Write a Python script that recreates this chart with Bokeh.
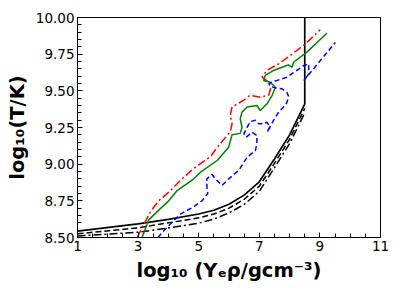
from bokeh.plotting import figure
from bokeh.models import Range1d, FixedTicker, PrintfTickFormatter
from bokeh.embed import file_html
from bokeh.resources import INLINE

# ---- data (log10 rho*Ye, log10 T) ----
red_x = [2.97, 3.19, 3.42, 3.68, 4.07, 4.40, 4.83, 5.38, 5.71, 6.04, 6.10, 6.04, 6.10,
         6.48, 6.70, 7.03, 7.31, 7.38, 7.30, 7.09, 7.25, 7.64, 8.02, 8.52, 9.01]
red_y = [8.50, 8.59, 8.68, 8.75, 8.82, 8.89, 8.97, 9.05, 9.14, 9.22, 9.275, 9.33, 9.39,
         9.435, 9.47, 9.457, 9.47, 9.52, 9.56, 9.593, 9.639, 9.684, 9.741, 9.82, 9.916]

green_x = [3.13, 3.35, 3.70, 4.01, 4.29, 4.84, 5.06, 5.61, 5.99, 6.10, 6.37, 6.43, 6.37,
           6.43, 6.60, 6.92, 7.03, 7.25, 7.42, 7.53, 7.36, 7.14, 7.20, 7.47, 7.75, 7.96,
           8.08, 8.13, 8.57, 9.23]
green_y = [8.50, 8.62, 8.69, 8.75, 8.82, 8.90, 8.945, 9.025, 9.116, 9.20, 9.21, 9.25, 9.31,
           9.355, 9.39, 9.40, 9.366, 9.41, 9.468, 9.525, 9.559, 9.57, 9.605, 9.639, 9.661, 9.677,
           9.661, 9.695, 9.764, 9.893]

blue_x = [3.65, 3.96, 4.40, 4.84, 5.11, 5.30, 5.27, 5.27, 5.44, 5.55, 5.77, 5.99, 6.32,
          6.60, 6.87, 6.92, 6.92, 6.76, 6.57, 6.49, 6.60, 6.70, 6.87, 6.98, 7.14, 7.25,
          7.36, 7.25, 7.47, 7.64, 7.80, 7.91, 7.97, 7.91, 7.75, 7.53, 7.36, 7.32, 7.42,
          7.91, 8.47, 8.63, 8.63, 8.47, 9.51]
blue_y = [8.50, 8.57, 8.66, 8.71, 8.75, 8.80, 8.845, 8.90, 8.93, 8.90, 8.855, 8.90, 8.957,
          9.048, 9.093, 9.139, 9.195, 9.218, 9.184, 9.207, 9.252, 9.29, 9.30, 9.275, 9.275, 9.286,
          9.252, 9.218, 9.298, 9.355, 9.39, 9.42, 9.46, 9.49, 9.514, 9.52, 9.53, 9.55, 9.56,
          9.593, 9.673, 9.684, 9.616, 9.57, 9.83]

black_x = [1.0, 3.0, 4.0, 5.0, 5.5, 6.0, 6.5, 7.0, 7.5, 8.0, 8.5, 8.5]
black_solid_y = [8.543, 8.593, 8.623, 8.66, 8.686, 8.727, 8.789, 8.880, 9.035, 9.200, 9.409, 10.0]
black_dash_x = [1.0, 3.0, 4.0, 5.0, 5.5, 6.0, 6.5, 7.0, 7.5, 8.0, 8.5]
black_dash_y = [8.525, 8.566, 8.60, 8.634, 8.66, 8.70, 8.76, 8.850, 9.005, 9.170, 9.38]
black_dd_y = [8.51, 8.536, 8.565, 8.598, 8.625, 8.668, 8.725, 8.815, 8.975, 9.140, 9.35]

x_ticks = [1, 3, 5, 7, 9, 11]
y_ticks = [8.50, 8.75, 9.00, 9.25, 9.50, 9.75, 10.00]
x_minor = [1 + 0.5 * i for i in range(21)]
y_minor = [8.5 + 0.05 * i for i in range(31)]

p = figure(width=391, height=291, output_backend="svg", toolbar_location=None,
           x_range=Range1d(1, 11), y_range=Range1d(8.5, 10.0),
           min_border_left=77, min_border_right=11, min_border_top=17, min_border_bottom=54)

p.xgrid.visible = False
p.ygrid.visible = False
p.outline_line_color = "black"
p.outline_line_width = 1
p.background_fill_color = "white"
p.border_fill_color = "white"

lw = 1.5
p.line(black_x, black_solid_y, line_color="black", line_width=1.7)
p.line(black_dash_x, black_dash_y, line_color="black", line_width=lw, line_dash="6 3")
p.line(black_dash_x, black_dd_y, line_color="black", line_width=lw, line_dash="8 3 2 3")
p.line(red_x, red_y, line_color="red", line_width=lw, line_dash="8 3 2 3")
p.line(green_x, green_y, line_color="green", line_width=lw)
p.line(blue_x, blue_y, line_color="blue", line_width=lw, line_dash="5 3")

for ax in (p.xaxis[0], p.yaxis[0]):
    ax.axis_line_color = "black"
    ax.major_tick_in = 5
    ax.major_tick_out = 0
    ax.minor_tick_in = 4
    ax.minor_tick_out = 0
    ax.major_tick_line_color = "black"
    ax.minor_tick_line_color = "black"
    ax.major_label_text_font = "DejaVu Sans"
    ax.major_label_text_font_size = "13.5px"
    ax.major_label_text_color = "black"
    ax.axis_label_text_font = "DejaVu Sans"
    ax.axis_label_text_font_style = "bold"
    ax.axis_label_text_font_size = "19.5px"
    ax.axis_label_text_color = "black"

p.xaxis[0].ticker = FixedTicker(ticks=x_ticks, minor_ticks=x_minor)
p.yaxis[0].ticker = FixedTicker(ticks=y_ticks, minor_ticks=y_minor)
p.yaxis[0].formatter = PrintfTickFormatter(format="%.2f")
p.xaxis[0].major_label_standoff = 3
p.yaxis[0].major_label_standoff = 3
p.xaxis[0].axis_label = "log₁₀ (Yₑρ/gcm⁻³)"
p.yaxis[0].axis_label = "log₁₀(T/K)"
p.xaxis[0].axis_label_standoff = 5
p.yaxis[0].axis_label_standoff = 4

open("out.html", "w").write(file_html(p, INLINE))
